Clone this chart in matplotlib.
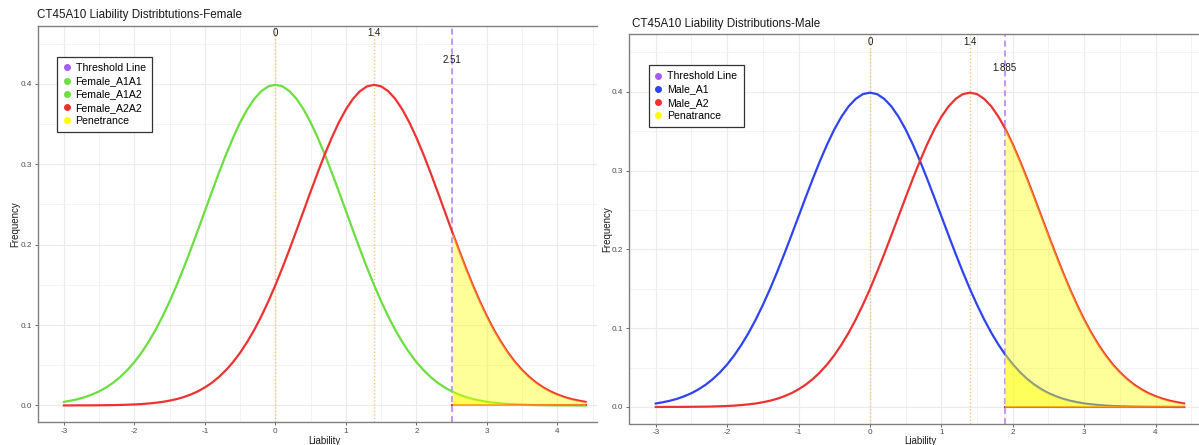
import numpy as np
import matplotlib
matplotlib.use("Agg")
import matplotlib.pyplot as plt
from matplotlib.lines import Line2D

plt.rcParams['font.family'] = ['Liberation Sans', 'DejaVu Sans']
plt.rcParams['axes.unicode_minus'] = False

# ---------------- datos ----------------
liability = [round(-3.0 + 0.1 * i, 1) for i in range(75)]   # -3.0 ... 4.4

# curva centrada en 0 (A1A1 / A1A2 / Male_A1)
dens_mean0 = [0.0044, 0.0060, 0.0079, 0.0104, 0.0136, 0.0175, 0.0224, 0.0283, 0.0355, 0.0440,
              0.0540, 0.0656, 0.0790, 0.0940, 0.1109, 0.1295, 0.1497, 0.1714, 0.1942, 0.2179,
              0.2420, 0.2661, 0.2897, 0.3123, 0.3332, 0.3521, 0.3683, 0.3814, 0.3910, 0.3970,
              0.3989,
              0.3970, 0.3910, 0.3814, 0.3683, 0.3521, 0.3332, 0.3123, 0.2897, 0.2661, 0.2420,
              0.2179, 0.1942, 0.1714, 0.1497, 0.1295, 0.1109, 0.0940, 0.0790, 0.0656, 0.0540,
              0.0440, 0.0355, 0.0283, 0.0224, 0.0175, 0.0136, 0.0104, 0.0079, 0.0060, 0.0044,
              0.0033, 0.0024, 0.0017, 0.0012, 0.0009, 0.0006, 0.0004, 0.0003, 0.0002, 0.0001,
              0.0001, 0.0001, 0.0000, 0.0000]

# curva centrada en 1.4 (A2A2 / Male_A2)
dens_mean14 = [0.0000, 0.0000, 0.0001, 0.0001, 0.0001, 0.0002, 0.0003, 0.0004, 0.0006, 0.0009,
               0.0012, 0.0017, 0.0024, 0.0033, 0.0044, 0.0060, 0.0079, 0.0104, 0.0136, 0.0175,
               0.0224, 0.0283, 0.0355, 0.0440, 0.0540, 0.0656, 0.0790, 0.0940, 0.1109, 0.1295,
               0.1497, 0.1714, 0.1942, 0.2179, 0.2420, 0.2661, 0.2897, 0.3123, 0.3332, 0.3521,
               0.3683, 0.3814, 0.3910, 0.3970,
               0.3989,
               0.3970, 0.3910, 0.3814, 0.3683, 0.3521, 0.3332, 0.3123, 0.2897, 0.2661, 0.2420,
               0.2179, 0.1942, 0.1714, 0.1497, 0.1295, 0.1109, 0.0940, 0.0790, 0.0656, 0.0540,
               0.0440, 0.0355, 0.0283, 0.0224, 0.0175, 0.0136, 0.0104, 0.0079, 0.0060, 0.0044]

means = [0, 1.4]
mean_labels = ['0', '1.4']

# umbral y valor de cada curva en el umbral
thr_female = 2.51
thr_female_label = '2.51'
thr_female_y = [0.0171, 0.2155]    # [curva 0, curva 1.4]
thr_male = 1.885
thr_male_label = '1.885'
thr_male_y = [0.0675, 0.3547]

labels_female = ['Threshold Line', 'Female_A1A1', 'Female_A1A2', 'Female_A2A2', 'Penetrance']
labels_male = ['Threshold Line', 'Male_A1', 'Male_A2', 'Penatrance']

# ---------------- colores ----------------
c_green = '#6ADF3F'
c_red = '#EE3232'
c_blue = '#2E44F2'
c_purple = '#A85CF5'
c_orange = '#F9C27A'
c_yellow = '#FFFF00'

x = np.array(liability)
y0 = np.array(dens_mean0)
y14 = np.array(dens_mean14)

fig = plt.figure(figsize=(11.99, 4.45), dpi=100)
W, H = 1199.0, 445.0


def px_axes(l, t, r, b):
    return fig.add_axes([l / W, 1 - b / H, (r - l) / W, (b - t) / H])


def panel(ax, xmax, thr, thr_lab, thr_y, col0, handle_cols):
    ax.set_xticks([-3, -2, -1, 0, 1, 2, 3, 4])
    ax.set_xticks(np.arange(-3.5, 4.6, 0.5), minor=True)
    ax.set_yticks([0.0, 0.1, 0.2, 0.3, 0.4])
    ax.set_yticks([0.05, 0.15, 0.25, 0.35, 0.45], minor=True)
    ax.set_yticklabels(['0.0', '0.1', '0.2', '0.3', '0.4'])
    ax.set_xlim(-3.375, xmax)
    ax.set_ylim(-0.021, 0.4727)
    ax.grid(True, which='major', color='#EBEBEB', lw=0.8, zorder=0)
    ax.grid(True, which='minor', color='#F1F1F1', lw=0.6, zorder=0)
    ax.set_axisbelow(True)
    for s in ['left', 'top', 'bottom']:
        ax.spines[s].set_color('#808080')
        ax.spines[s].set_linewidth(1.0)
    ax.spines['right'].set_visible(False)
    ax.tick_params(which='major', length=2.5, width=0.6, color='#4D4D4D',
                   labelsize=5.9, labelcolor='#4D4D4D', pad=1.5)
    ax.tick_params(which='minor', length=0)

    # lineas verticales
    for m in means:
        ax.axvline(m, color=c_orange, lw=1.0, ls=(0, (1, 1.5)), zorder=2)
    ax.axvline(thr, color='#B07CF7', lw=1.1, ls=(0, (4, 2.5)), zorder=2)

    # curvas
    ax.plot(x, y0, color=col0, lw=1.6, zorder=3)
    ax.plot(x, y14, color=c_red, lw=1.6, zorder=3)
    ax.plot([thr, 4.4], [0, 0], color=c_red, lw=1.5, zorder=3)

    # penetrancia
    mask = x > thr
    fx = np.concatenate([[thr], x[mask]])
    f0 = np.concatenate([[thr_y[0]], y0[mask]])
    f14 = np.concatenate([[thr_y[1]], y14[mask]])
    ax.fill_between(fx, 0, f14, color=c_yellow, alpha=0.4, lw=0, zorder=4)
    ax.fill_between(fx, 0, f0, color=c_yellow, alpha=0.4, lw=0, zorder=4)

    # etiquetas
    for m, lab in zip(means, mean_labels):
        ax.text(m, 0.463, lab, ha='center', va='center', fontsize=7, color='#1A1A1A')
    ax.text(thr, 0.43, thr_lab, ha='center', va='center', fontsize=7, color='#1A1A1A')

    handles = [Line2D([], [], ls='', marker='o', ms=4, color=c) for c in handle_cols]
    return handles


def legenda(ax, handles, labels, top):
    leg = ax.legend(handles, labels, loc='upper left', bbox_to_anchor=(0.035, top),
                    fontsize=7.6, frameon=True, fancybox=False, borderpad=0.6,
                    labelspacing=0.3, handlelength=0.6, handletextpad=0.55,
                    borderaxespad=0, framealpha=1)
    leg.get_frame().set_edgecolor('#333333')
    leg.get_frame().set_linewidth(0.9)
    leg.set_zorder(6)


# ---------------- panel mujeres ----------------
ax1 = px_axes(37.5, 25.5, 597, 422.3)
h1 = panel(ax1, 4.562, thr_female, thr_female_label, thr_female_y, c_green,
           [c_purple, c_green, c_green, c_red, c_yellow])
legenda(ax1, h1, labels_female, 0.921)

# ---------------- panel hombres ----------------
ax2 = px_axes(629, 34.5, 1199, 423.5)
h2 = panel(ax2, 4.608, thr_male, thr_male_label, thr_male_y, c_blue,
           [c_purple, c_blue, c_red, c_yellow])
legenda(ax2, h2, labels_male, 0.9216)

# titulos y rotulos de ejes
fig.text(37 / W, 1 - 15 / H, 'CT45A10 Liability Distribtutions-Female', ha='left', va='center',
         fontsize=8.4, color='#1A1A1A')
fig.text(632 / W, 1 - 24 / H, 'CT45A10 Liability Distributions-Male', ha='left', va='center',
         fontsize=8.4, color='#1A1A1A')
fig.text(324 / W, 1 - 441 / H, 'Liability', ha='center', va='center', fontsize=7, color='#1A1A1A')
fig.text(920 / W, 1 - 441 / H, 'Liability', ha='center', va='center', fontsize=7, color='#1A1A1A')
fig.text(15 / W, 1 - 224 / H, 'Frequency', ha='center', va='center', rotation=90,
         fontsize=7, color='#1A1A1A')
fig.text(607 / W, 1 - 229 / H, 'Frequency', ha='center', va='center', rotation=90,
         fontsize=7, color='#1A1A1A')

fig.savefig('out.png', dpi=100)
